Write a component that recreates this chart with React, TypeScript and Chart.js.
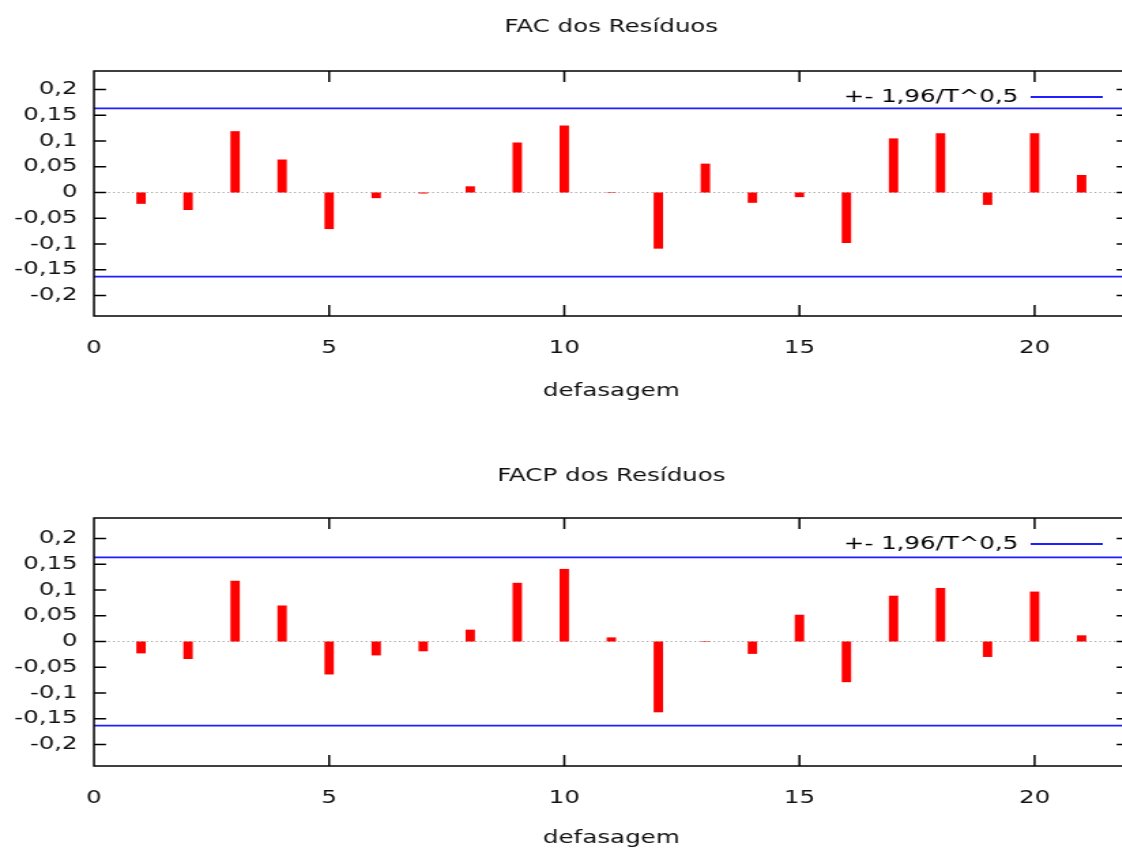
import React, { useEffect, useRef } from 'react';
import { Chart, registerables } from 'chart.js';

Chart.register(...registerables);

// ---------- data ----------
const lags = [1, 2, 3, 4, 5, 6, 7, 8, 9, 10, 11, 12, 13, 14, 15, 16, 17, 18, 19, 20, 21];
const facValues = [
  -0.022, -0.034, 0.119, 0.064, -0.071, -0.011, -0.002, 0.012, 0.097, 0.130, 0.001,
  -0.109, 0.056, -0.020, -0.009, -0.098, 0.105, 0.115, -0.024, 0.115, 0.034,
];
const facpValues = [
  -0.023, -0.034, 0.118, 0.070, -0.064, -0.027, -0.019, 0.023, 0.114, 0.141, 0.008,
  -0.1375, -0.001, -0.024, 0.052, -0.079, 0.089, 0.104, -0.030, 0.097, 0.012,
];
const confidenceBand = 0.1633; // 1,96 / sqrt(T)
const xRange = [0, 22];
const xTickValues = [0, 5, 10, 15, 20];
const yTickValues = [-0.2, -0.15, -0.1, -0.05, 0, 0.05, 0.1, 0.15, 0.2];
const bandLegendLabel = '+- 1,96/T^0,5';
const xAxisLabel = 'defasagem';
const panelTitles = ['FAC dos Resíduos', 'FACP dos Resíduos'];

// ---------- layout ----------
const INTERNAL_W = 830;
const CSS_W = 1130;
const STRETCH = CSS_W / INTERNAL_W;
const PLOT_LEFT = 94 / STRETCH;
const FONT = "'DejaVu Sans', sans-serif";
const BLUE = '#1f1fff';
const RED = '#ff0000';
const TEXT = '#111';

Chart.defaults.font.family = FONT;
Chart.defaults.font.size = 18;
Chart.defaults.color = TEXT;

const fmt = (v: number) => {
  const r = Math.round(v * 100) / 100;
  return (Object.is(r, -0) ? 0 : r).toString().replace('.', ',');
};

const gnuplotFrame = {
  id: 'gnuplotFrame',
  afterLayout(chart: any) {
    // keep the legend inside the plot area, top-right corner (gnuplot "key top right")
    const lg = chart.legend;
    const ca = chart.chartArea;
    if (!lg || !ca) return;
    const w = lg.width;
    const h = lg.height;
    lg.left = ca.right - w - 2;
    lg.right = lg.left + w;
    lg.top = ca.top;
    lg.bottom = ca.top + h;
  },
  beforeDatasetsDraw(chart: any) {
    const { ctx, chartArea, scales } = chart;
    const y0 = scales.y.getPixelForValue(0);
    ctx.save();
    ctx.strokeStyle = '#a0a0a0';
    ctx.lineWidth = 1.2;
    ctx.setLineDash([1.2, 2.3]);
    ctx.beginPath();
    ctx.moveTo(chartArea.left, y0);
    ctx.lineTo(chartArea.right, y0);
    ctx.stroke();
    ctx.restore();
  },
  afterDraw(chart: any) {
    const { ctx, chartArea, scales } = chart;
    const { left, right, top, bottom } = chartArea;
    ctx.save();
    ctx.strokeStyle = '#000';
    ctx.lineWidth = 1.5;
    ctx.setLineDash([]);
    ctx.strokeRect(left, top, right - left, bottom - top);
    const tx = 11;
    const ty = 12 / STRETCH;
    ctx.beginPath();
    xTickValues.forEach((v) => {
      const px = scales.x.getPixelForValue(v);
      if (px <= left + 1) return;
      ctx.moveTo(px, bottom);
      ctx.lineTo(px, bottom - tx);
      ctx.moveTo(px, top);
      ctx.lineTo(px, top + tx);
    });
    yTickValues.forEach((v) => {
      const py = scales.y.getPixelForValue(v);
      ctx.moveTo(left, py);
      ctx.lineTo(left + ty, py);
      ctx.moveTo(right, py);
      ctx.lineTo(right - ty, py);
    });
    ctx.stroke();
    ctx.restore();
  },
};

type PanelProps = {
  title: string;
  values: number[];
  height: number;
  yMin: number;
  yMax: number;
  titlePad: { top: number; bottom: number };
  xAxisHeight: number;
  xTitlePadBottom: number;
};

function Panel(p: PanelProps) {
  const ref = useRef<HTMLCanvasElement | null>(null);
  useEffect(() => {
    if (!ref.current) return;
    const chart = new Chart(ref.current, {
      type: 'bar',
      data: {
        datasets: [
          {
            type: 'bar',
            data: lags.map((l, i) => ({ x: l, y: p.values[i] })),
            backgroundColor: RED,
            borderWidth: 0,
            barPercentage: 0.2,
            categoryPercentage: 1,
            order: 2,
          } as any,
          {
            type: 'line',
            data: xRange.map((x) => ({ x, y: confidenceBand })),
            borderColor: BLUE,
            backgroundColor: BLUE,
            borderWidth: 1.8,
            pointRadius: 0,
            order: 1,
          } as any,
          {
            type: 'line',
            data: xRange.map((x) => ({ x, y: -confidenceBand })),
            borderColor: BLUE,
            backgroundColor: BLUE,
            borderWidth: 1.8,
            pointRadius: 0,
            order: 1,
          } as any,
        ],
      },
      options: {
        responsive: false,
        animation: false,
        events: [],
        layout: { padding: { left: 0, right: 1, top: 0, bottom: 0 } },
        scales: {
          x: {
            type: 'linear',
            min: xRange[0],
            max: xRange[1],
            offset: false,
            grid: { display: false, drawTicks: false },
            border: { display: false },
            afterBuildTicks: (s: any) => {
              s.ticks = xTickValues.map((v) => ({ value: v }));
            },
            afterFit: (s: any) => {
              s.height = p.xAxisHeight;
            },
            ticks: {
              padding: 22,
              color: TEXT,
              maxRotation: 0,
              autoSkip: false,
              callback: (v: any) => String(v),
            },
            title: {
              display: true,
              text: xAxisLabel,
              color: TEXT,
              padding: { top: 0, bottom: p.xTitlePadBottom },
            },
          },
          y: {
            type: 'linear',
            min: p.yMin,
            max: p.yMax,
            grid: { display: false, drawTicks: false },
            border: { display: false },
            afterBuildTicks: (s: any) => {
              s.ticks = yTickValues.map((v) => ({ value: v }));
            },
            afterFit: (s: any) => {
              s.width = PLOT_LEFT;
            },
            ticks: {
              padding: 12,
              color: TEXT,
              autoSkip: false,
              callback: (v: any) => fmt(Number(v)),
            },
          },
        } as any,
        plugins: {
          title: {
            display: true,
            text: p.title,
            fullSize: false,
            color: TEXT,
            font: { size: 18, weight: 'normal' },
            padding: p.titlePad,
          },
          legend: {
            display: true,
            position: 'chartArea',
            align: 'start',
            rtl: true,
            labels: {
              boxWidth: 53,
              boxHeight: 2,
              padding: 17,
              color: TEXT,
              font: { size: 18 },
              generateLabels: () => [
                {
                  text: bandLegendLabel,
                  fillStyle: BLUE,
                  strokeStyle: BLUE,
                  lineWidth: 0,
                  hidden: false,
                  datasetIndex: 1,
                } as any,
              ],
            },
          },
          tooltip: { enabled: false },
        } as any,
      },
      plugins: [gnuplotFrame],
    });
    return () => chart.destroy();
  }, []);
  return (
    <canvas
      ref={ref}
      width={INTERNAL_W}
      height={p.height}
      style={{ width: `${CSS_W}px`, height: `${p.height}px`, display: 'block' }}
    />
  );
}

export default function App() {
  return (
    <div
      style={{
        position: 'absolute',
        left: 0,
        top: 0,
        width: 1122,
        height: 850,
        overflow: 'hidden',
        background: '#fff',
      }}
    >
      <Panel
        title={panelTitles[0]}
        values={facValues}
        height={448}
        yMin={-0.2397}
        yMax={0.2358}
        titlePad={{ top: 17, bottom: 32.4 }}
        xAxisHeight={132}
        xTitlePadBottom={46}
      />
      <Panel
        title={panelTitles[1]}
        values={facpValues}
        height={402}
        yMin={-0.2418}
        yMax={0.2399}
        titlePad={{ top: 18, bottom: 30.4 }}
        xAxisHeight={84}
        xTitlePadBottom={1}
      />
    </div>
  );
}
